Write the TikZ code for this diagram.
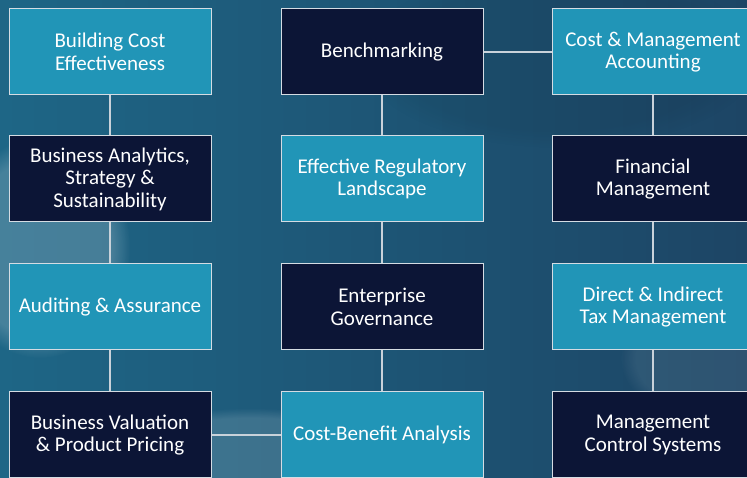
\documentclass[tikz,border=0pt]{standalone}
\usepackage{fontspec}
\setmainfont{Carlito}
\usetikzlibrary{fadings}
\definecolor{bgL}{HTML}{1E6686}
\definecolor{bgR}{HTML}{1D4565}
\definecolor{lightfill}{HTML}{2195B7}
\definecolor{darkfill}{HTML}{0C1536}
\definecolor{edgec}{HTML}{D5DCE3}
\definecolor{connc}{HTML}{C9D2DA}
\tikzset{
  card/.style={minimum width=202pt, minimum height=86pt, inner sep=0pt,
    draw=edgec, line width=1pt, text=white, align=center,
    font=\fontsize{21}{22.5}\selectfont},
  lightbox/.style={card, fill=lightfill},
  darkbox/.style={card, fill=darkfill},
  conn/.style={draw=connc, line width=1.3pt},
}
\begin{document}
\begin{tikzpicture}[x=1pt,y=1pt]
\useasboundingbox (0,0) rectangle (747,478);
\begin{scope}
\clip (0,0) rectangle (747,478);
\shade[left color=bgL, right color=bgR] (0,0) rectangle (747,478);
\fill[white, opacity=0.18, path fading=circle with fuzzy edge 20 percent] (40,230) ellipse (90 and 110);
\fill[white, opacity=0.14, path fading=circle with fuzzy edge 20 percent] (250,20) ellipse (150 and 50);
\fill[white, opacity=0.08, path fading=circle with fuzzy edge 20 percent] (700,120) ellipse (80 and 60);
\fill[black, opacity=0.06, path fading=circle with fuzzy edge 20 percent] (560,420) ellipse (200 and 90);

\node[lightbox] (bce) at (110,426) {Building Cost\\Effectiveness};
\node[darkbox]  (bas) at (110,299) {Business Analytics,\\Strategy \&\\Sustainability};
\node[lightbox] (aa)  at (110,171) {Auditing \& Assurance};
\node[darkbox]  (bvp) at (110,43)  {Business Valuation\\\& Product Pricing};

\node[darkbox]  (bm)  at (382,426) {Benchmarking};
\node[lightbox] (erl) at (382,299) {Effective Regulatory\\Landscape};
\node[darkbox]  (eg)  at (382,171) {Enterprise\\Governance};
\node[lightbox] (cba) at (382,43)  {Cost-Benefit Analysis};

\node[lightbox] (cma) at (653,426) {Cost \& Management\\Accounting};
\node[darkbox]  (fm)  at (653,299) {Financial\\Management};
\node[lightbox] (dit) at (653,171) {Direct \& Indirect\\Tax Management};
\node[darkbox]  (mcs) at (653,43)  {Management\\Control Systems};

\draw[conn] (bce) -- (bas);
\draw[conn] (bas) -- (aa);
\draw[conn] (aa) -- (bvp);
\draw[conn] (bm) -- (erl);
\draw[conn] (erl) -- (eg);
\draw[conn] (eg) -- (cba);
\draw[conn] (cma) -- (fm);
\draw[conn] (fm) -- (dit);
\draw[conn] (dit) -- (mcs);
\draw[conn] (bm) -- (cma);
\draw[conn] (bvp) -- (cba);
\end{scope}
\end{tikzpicture}
\end{document}
